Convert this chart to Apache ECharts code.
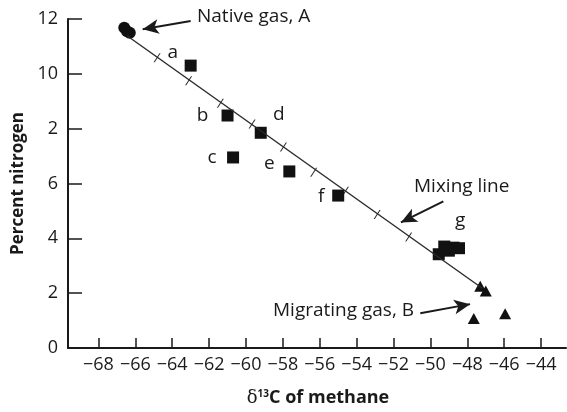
<!DOCTYPE html>
<html><head><meta charset="utf-8">
<script src="https://cdn.jsdelivr.net/npm/echarts@6/dist/echarts.min.js"></script>
<style>html,body{margin:0;padding:0;background:#fff}#c{width:567px;height:412px}</style>
</head><body><div id="c"></div>
<script>
// ---- data ----
const xTicks = [-68, -66, -64, -62, -60, -58, -56, -54, -52, -50, -48, -46, -44];
const yTicks = [0, 2, 4, 6, 8, 10, 12];
const yTickLabels = ['0', '2', '4', '6', '2', '10', '12']; // as printed in the original
const nativeGas = [[-66.6, 11.68], [-66.45, 11.55], [-66.3, 11.5]];
const sampleNames = ['a', 'b', 'c', 'd', 'e', 'f'];
const sampleValues = [[-63.0, 10.3], [-61.0, 8.48], [-60.7, 6.95], [-59.2, 7.85], [-57.65, 6.44], [-55.0, 5.56]];
const groupG = [[-49.55, 3.42], [-49.25, 3.7], [-49.0, 3.55], [-48.75, 3.66], [-48.45, 3.64]];
const migratingGas = [[-47.3, 2.25], [-47.0, 2.08], [-47.65, 1.08], [-45.95, 1.25]];
const mixingLine = [[-66.43, 11.38], [-47.19, 2.18]];
const mixingTicks = [[-64.82, 10.59], [-63.11, 9.75], [-61.39, 8.93], [-59.67, 8.17], [-57.97, 7.33], [-56.33, 6.41], [-54.61, 5.72], [-52.89, 4.87], [-51.18, 4.05]];

const FONT = 'Open Sans';
const ink = '#1a1a1a';
const labelOffsets = { a: [-18, -13], b: [-25, 0], c: [-21, 0], d: [18, -18], e: [-20, -8], f: [-17, 1] };

const chart = echarts.init(document.getElementById('c'));
const arrow = (from, to) => [{ coord: from, symbol: 'none' }, { coord: to, symbol: 'arrow' }];
const mark = { color: '#111', opacity: 1 };

chart.setOption({
  animation: false,
  grid: { left: 68, right: 1, top: 19, bottom: 64 },
  xAxis: {
    type: 'value', min: -69.65, max: -42.65,
    axisLine: { show: true, onZero: false, lineStyle: { color: ink, width: 2 } },
    axisTick: { show: true, inside: true, length: 10, customValues: xTicks, lineStyle: { color: ink, width: 1.5 } },
    axisLabel: { customValues: xTicks, margin: 8, color: ink, fontFamily: FONT, fontSize: 18,
      formatter: v => (v < 0 ? '\u2212' + Math.abs(v) : String(v)) },
    splitLine: { show: false }
  },
  yAxis: {
    type: 'value', min: 0, max: 12, interval: 2,
    axisLine: { show: true, onZero: false, lineStyle: { color: ink, width: 2 } },
    axisTick: { show: true, inside: true, length: 14, lineStyle: { color: ink, width: 1.5 } },
    axisLabel: { margin: 10, color: ink, fontFamily: FONT, fontSize: 18,
      formatter: v => yTickLabels[yTicks.indexOf(v)] },
    splitLine: { show: false },
    name: 'Percent nitrogen', nameLocation: 'middle', nameGap: 40, nameRotate: 90,
    nameTextStyle: { color: ink, fontFamily: FONT, fontSize: 17, fontWeight: 'bold' }
  },
  graphic: [
    { type: 'text', left: 197, top: 7, style: { text: 'Native gas, A', fontFamily: FONT, fontSize: 19, fill: ink } },
    { type: 'text', left: 414, top: 177, style: { text: 'Mixing line', fontFamily: FONT, fontSize: 19, fill: ink } },
    { type: 'text', left: 455, top: 211, style: { text: 'g', fontFamily: FONT, fontSize: 19, fill: ink } },
    { type: 'text', left: 273, top: 301, style: { text: 'Migrating gas, B', fontFamily: FONT, fontSize: 19, fill: ink } },
    { type: 'text', x: 318, y: 398, style: {
      text: '{d|\u03b4}{s|13}{b|C of methane}', align: 'center', verticalAlign: 'middle',
      rich: {
        d: { fontFamily: 'DejaVu Serif', fontSize: 18, fill: ink, fontWeight: 'normal' },
        s: { fontFamily: FONT, fontSize: 10, fontWeight: 'bold', verticalAlign: 'top', padding: [0, 0, 8, 0], fill: ink },
        b: { fontFamily: FONT, fontSize: 18, fontWeight: 'bold', fill: ink }
      } } }
  ],
  series: [
    {
      type: 'line', data: mixingLine, symbol: 'none', silent: true,
      lineStyle: { color: '#2a2a2a', width: 1.4 },
      markLine: {
        silent: true, symbolSize: [11, 16], animation: false,
        lineStyle: { color: ink, width: 2, type: 'solid' }, label: { show: false },
        data: [
          arrow([-63.0, 11.93], [-65.6, 11.63]),
          arrow([-49.3, 5.35], [-51.6, 4.58]),
          arrow([-50.55, 1.27], [-47.85, 1.6])
        ]
      }
    },
    {
      type: 'scatter', data: mixingTicks, symbol: 'path://M0,10L7,0L8.4,0L1.4,10Z', symbolSize: [7, 9],
      itemStyle: { color: '#2a2a2a', opacity: 1 }, silent: true
    },
    { type: 'scatter', data: nativeGas, symbol: 'circle', symbolSize: 12, itemStyle: mark },
    {
      type: 'scatter', symbol: 'rect', symbolSize: 12, itemStyle: mark,
      data: sampleValues.map((v, i) => ({
        value: v,
        label: { show: true, formatter: sampleNames[i], position: 'inside', offset: labelOffsets[sampleNames[i]],
          color: ink, fontFamily: FONT, fontSize: 19 }
      }))
    },
    { type: 'scatter', data: groupG, symbol: 'rect', symbolSize: 12, itemStyle: mark },
    { type: 'scatter', data: migratingGas, symbol: 'triangle', symbolSize: [12, 11], itemStyle: mark }
  ]
});
</script></body></html>
